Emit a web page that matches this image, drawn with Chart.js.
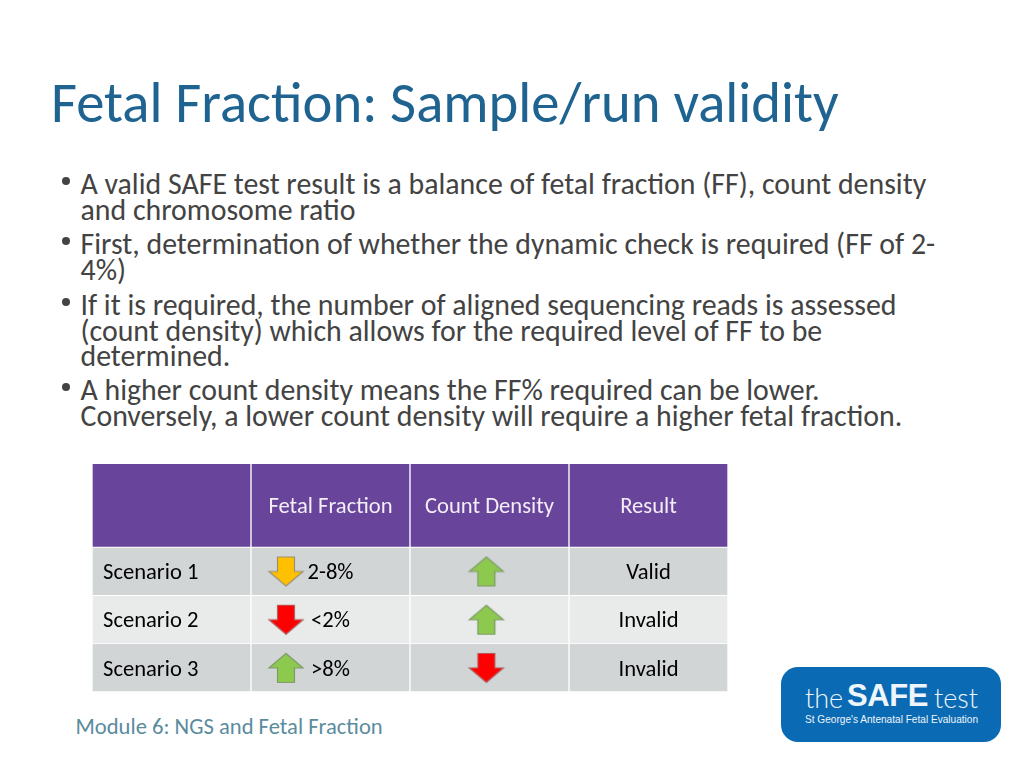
<!DOCTYPE html>
<html><head><meta charset="utf-8">
<script src="https://cdn.jsdelivr.net/npm/chart.js@4"></script>
<style>
html,body{margin:0;padding:0;background:#fff;width:1024px;height:768px;overflow:hidden}
body{font-family:Carlito,Lato,sans-serif;position:relative;font-variant-ligatures:common-ligatures}
.t{position:absolute;white-space:nowrap}
#title{left:51px;top:70px;line-height:66px;font-size:56.65px;color:#1f6391}
.line{left:80.5px;font-size:29.85px;line-height:26px;color:#434343}
.dot{position:absolute;left:62px;width:8px;height:8px;border-radius:50%;background:#434343}
#foot{left:75.5px;top:713px;font-size:22.6px;line-height:26px;color:#5b8c9e}
#logo{position:absolute;left:781px;top:667px;width:220px;height:75px;border-radius:17px;background:#0a6ab4;color:#fff;font-family:"Liberation Sans",Arial,sans-serif}
#logo .t{color:#eef6fb}
#wrap{position:absolute;left:92px;top:464px;width:636px;height:228px}
</style></head><body>
<div class="t" id="title">Fetal Fraction: Sample/run validity</div>
<div id="body"></div>
<div id="wrap"><canvas id="c" width="636" height="228"></canvas></div>
<div class="t" id="foot">Module 6: NGS and Fetal Fraction</div>
<div id="logo">
 <div class="t" style="left:24px;top:15px;font-size:27px;line-height:32px;font-family:Lato,sans-serif;font-weight:300">the</div>
 <div class="t" style="left:66px;top:11px;font-size:31px;line-height:36px;font-weight:700;letter-spacing:-.4px">SAFE</div>
 <div class="t" style="left:153px;top:15px;font-size:27px;line-height:32px;font-family:Lato,sans-serif;font-weight:300">test</div>
 <div class="t" style="left:24px;top:46px;font-size:10.1px;line-height:14px;">St George's Antenatal Fetal Evaluation</div>
</div>
<script>
const bulletLines = [
 ["A valid SAFE test result is a balance of fetal fraction (FF), count density", 184, true],
 ["and chromosome ratio", 210, false],
 ["First, determination of whether the dynamic check is required (FF of 2-", 244, true],
 ["4%)", 270, false],
 ["If it is required, the number of aligned sequencing reads is assessed", 305, true],
 ["(count density) which allows for the required level of FF to be", 331, false],
 ["determined.", 356, false],
 ["A higher count density means the FF% required can be lower.", 390, true],
 ["Conversely, a lower count density will require a higher fetal fraction.", 416, false]
];
const bodyEl = document.getElementById('body');
bulletLines.forEach(([s, y, b]) => {
  const d = document.createElement('div');
  d.className = 't line'; d.textContent = s; d.style.top = (y - 13) + 'px';
  bodyEl.appendChild(d);
  if (b) { const o = document.createElement('div'); o.className = 'dot'; o.style.top = (y - 7) + 'px'; bodyEl.appendChild(o); }
});

const columns = ["", "Fetal Fraction", "Count Density", "Result"];
const rowLabels = ["Header", "Scenario 1", "Scenario 2", "Scenario 3"];
const rowSpans = [1.73, 1, 1, 1];
const rowColours = ["#68459b", "#d2d5d6", "#e9ebea", "#d2d5d6"];
const row1Cells = ["Scenario 1", "2-8%", "", "Valid"];
const row2Cells = ["Scenario 2", "<2%", "", "Invalid"];
const row3Cells = ["Scenario 3", ">8%", "", "Invalid"];
const arrowX = [1.22, 1.22, 1.22, 2.48, 2.48, 2.48];
const arrowRow = [1, 2, 3, 1, 2, 3];
const arrowUp = [false, false, true, true, true, false];
const arrowFill = ["#ffc000", "#ff0000", "#8dc94f", "#8dc94f", "#8dc94f", "#ff0000"];

function arrowImage(up, fill) {
  const c = document.createElement('canvas'); c.width = 38; c.height = 32;
  const g = c.getContext('2d');
  g.translate(19, 16); if (!up) g.scale(1, -1);
  g.beginPath();
  g.moveTo(0, -14.5); g.lineTo(17, 0); g.lineTo(8.5, 0); g.lineTo(8.5, 14.5);
  g.lineTo(-8.5, 14.5); g.lineTo(-8.5, 0); g.lineTo(-17, 0); g.closePath();
  g.fillStyle = fill; g.fill();
  g.strokeStyle = up ? '#7f9a6a' : (fill === '#ffc000' ? '#9a9070' : '#b06060');
  g.lineWidth = 1.2; g.stroke();
  return c;
}
const rowCentre = i => rowSpans.slice(0, i).reduce((a, b) => a + b, 0) + rowSpans[i] / 2;
const total = rowSpans.reduce((a, b) => a + b, 0);

const cellText = {
  id: 'cellText',
  afterDraw(ch) {
    const g = ch.ctx, xs = ch.scales.x, ys = ch.scales.y;
    const rows = [columns, row1Cells, row2Cells, row3Cells];
    g.save(); g.textBaseline = 'middle';
    rows.forEach((cells, r) => cells.forEach((s, col) => {
      if (!s) return;
      const hdr = r === 0;
      g.font = '22.6px Carlito, Lato, sans-serif';
      g.fillStyle = hdr ? '#f3edf7' : '#000';
      const y = ys.getPixelForValue(rowCentre(r)) + 2;
      if (col === 0) { g.textAlign = 'left'; g.fillText(s, xs.getPixelForValue(0) - 68.5, y); }
      else { g.textAlign = 'center'; g.fillText(s, xs.getPixelForValue(col), y); }
    }));
    g.restore();
  }
};

new Chart(document.getElementById('c'), {
  data: {
    labels: columns.map((c, i) => c || 'Row'),
    datasets: [
      ...rowLabels.map((l, i) => ({
        type: 'bar', label: l, data: columns.map(() => rowSpans[i]),
        backgroundColor: rowColours[i], borderColor: '#fff', borderWidth: 1, grouped: false,
        barPercentage: 1, categoryPercentage: 1, stack: 'table', xAxisID: 'x', yAxisID: 'y', order: 2
      })),
      { type: 'scatter', label: 'Arrows', xAxisID: 'xa', yAxisID: 'y', order: 1,
        data: arrowX.map((x, i) => ({ x, y: rowCentre(arrowRow[i]) })),
        pointStyle: arrowX.map((_, i) => arrowImage(arrowUp[i], arrowFill[i])) }
    ]
  },
  options: {
    responsive: false, animation: false, devicePixelRatio: 1,
    layout: { padding: 0, autoPadding: false },
    plugins: { legend: { display: false }, tooltip: { enabled: false } },
    scales: {
      x: { display: false, stacked: true, offset: true },
      xa: { display: false, type: 'linear', min: 0, max: 4 },
      y: { display: false, stacked: true, reverse: true, min: 0, max: total }
    }
  },
  plugins: [cellText]
});
</script>
</body></html>
